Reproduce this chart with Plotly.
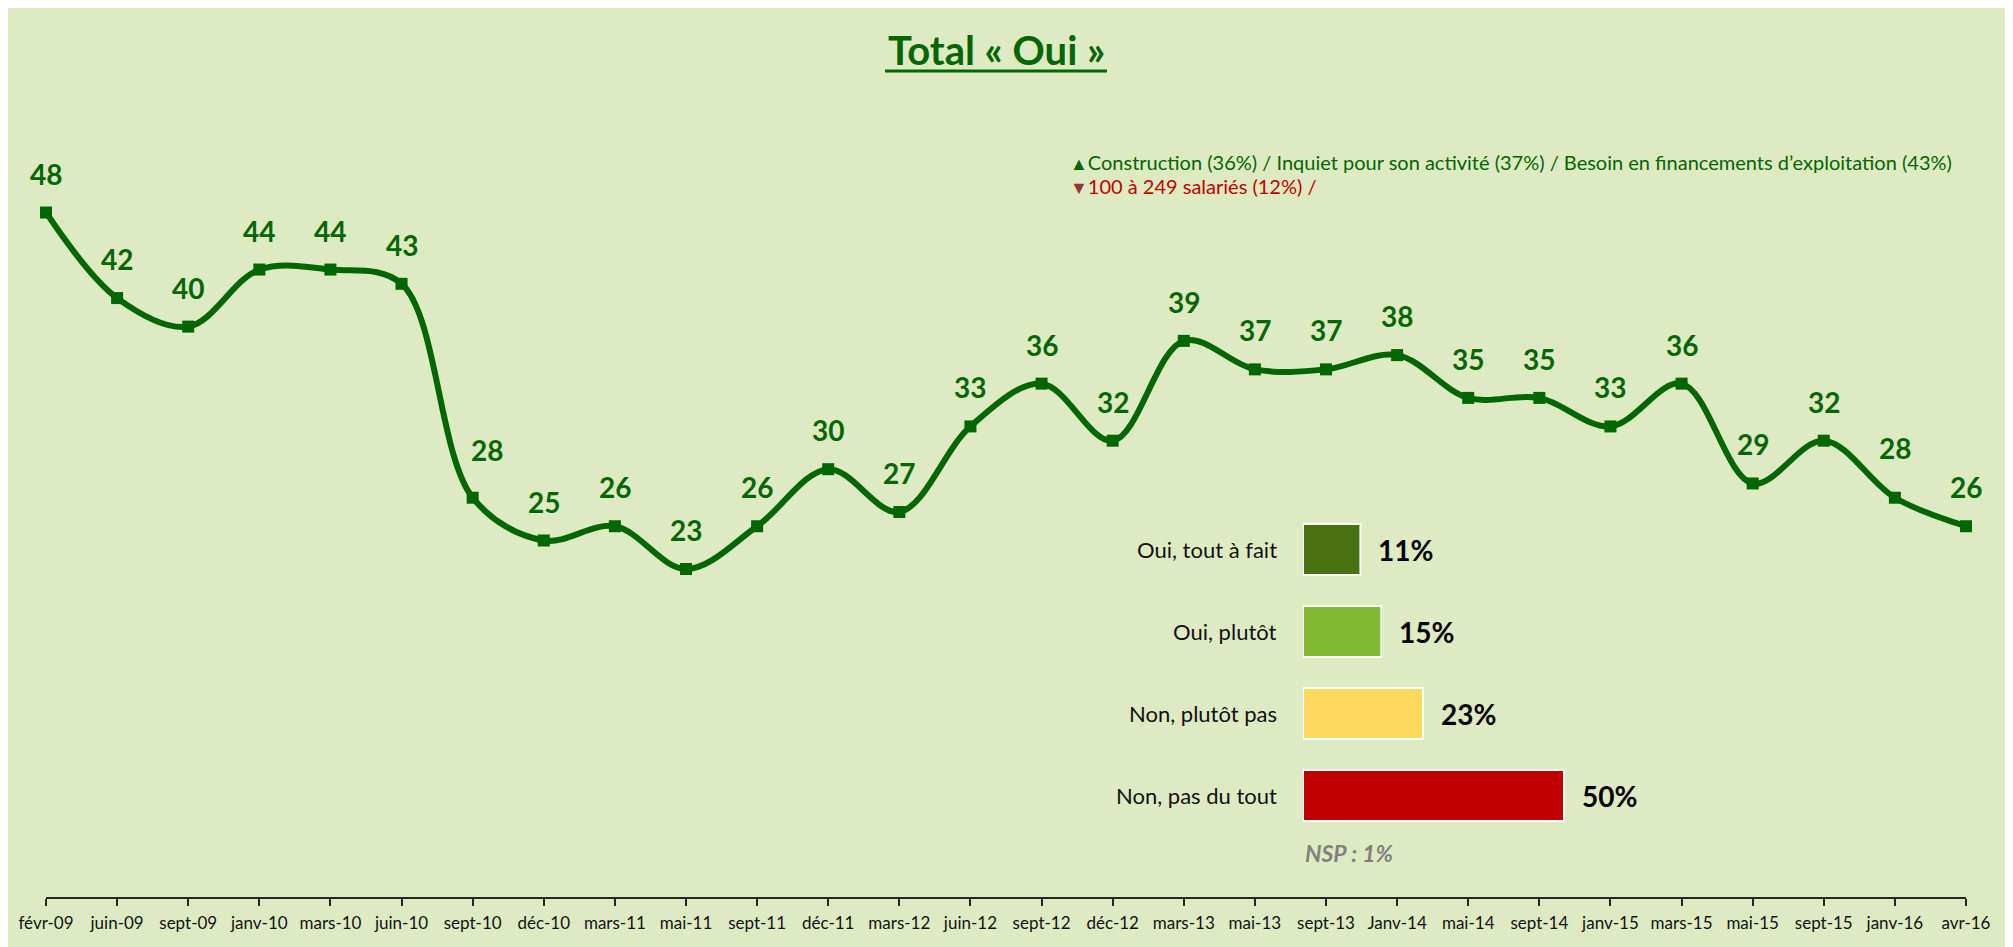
import plotly.graph_objects as go

############# Data #############
mois = ['févr-09', 'juin-09', 'sept-09', 'janv-10', 'mars-10', 'juin-10', 'sept-10', 'déc-10',
        'mars-11', 'mai-11', 'sept-11', 'déc-11', 'mars-12', 'juin-12', 'sept-12', 'déc-12',
        'mars-13', 'mai-13', 'sept-13', 'Janv-14', 'mai-14', 'sept-14', 'janv-15', 'mars-15',
        'mai-15', 'sept-15', 'janv-16', 'avr-16']
total_oui = [48, 42, 40, 44, 44, 43, 28, 25, 26, 23, 26, 30, 27, 33, 36, 32,
             39, 37, 37, 38, 35, 35, 33, 36, 29, 32, 28, 26]

reponses = ['Oui, tout à fait', 'Oui, plutôt', 'Non, plutôt pas', 'Non, pas du tout']
pourcentages = [11, 15, 23, 50]
couleurs_barres = ['#47720F', '#82B932', '#FFD95C', '#C00000']
nsp = 'NSP : 1%'

note_hausse = 'Construction (36%) / Inquiet pour son activité (37%) / Besoin en financements d’exploitation (43%)'
note_baisse = '100 à 249 salariés (12%) /'

############# Layout helpers #############
W, H = 2013, 947
OFF = 8                              # page body margin
L, R, T, B = 38, 55, 0, 58           # plot area in figure pixels
PW, PH = W - L - R, H - T - B
VERT = '#006600'
BG = '#DEEBC2'
FONT = 'Lato'


# positions are measured in page pixels
def px(x):
    return (x - OFF - L) / PW


def py(y):
    return (H - B - (y - OFF)) / PH


# small manual nudges for some line labels (dx, dy in pixels)
nudges = {6: (14, 48), 26: (0, 50)}

fig = go.Figure()

# line chart
fig.add_trace(go.Scatter(
    x=mois, y=total_oui, mode='lines+markers',
    line=dict(color=VERT, width=6, shape='spline', smoothing=1.0),
    marker=dict(symbol='square', size=12, color=VERT),
    cliponaxis=False, showlegend=False, hoverinfo='x+y',
))

# inset bar chart
fig.add_trace(go.Bar(
    x=pourcentages, y=reponses, orientation='h',
    marker=dict(color=couleurs_barres, line=dict(color='white', width=2)),
    xaxis='x2', yaxis='y2', showlegend=False, hoverinfo='x+y',
))

annotations = []
for i, (m, v) in enumerate(zip(mois, total_oui)):
    dx, dy = nudges.get(i, (0, 39))
    annotations.append(dict(
        x=m, y=v, xref='x', yref='y', text=f'<b>{v}</b>', showarrow=False,
        xshift=dx, yshift=dy, font=dict(family=FONT, size=28, color=VERT),
    ))

for rep, p in zip(reponses, pourcentages):
    annotations.append(dict(
        x=0, y=rep, xref='x2', yref='y2', text=rep, showarrow=False,
        xanchor='right', xshift=-24, font=dict(family=FONT, size=22, color='#111111'),
    ))
    annotations.append(dict(
        x=p, y=rep, xref='x2', yref='y2', text=f'<b>{p}%</b>', showarrow=False,
        xanchor='left', xshift=16, font=dict(family=FONT, size=28, color='black'),
    ))

annotations += [
    dict(x=px(1303), y=py(853), xref='paper', yref='paper', xanchor='left', yanchor='middle',
         showarrow=False, text=f'<b><i>{nsp}</i></b>',
         font=dict(family=FONT, size=23, color='#808080')),
    dict(x=px(996), y=py(50), xref='paper', yref='paper', xanchor='center', yanchor='middle',
         showarrow=False, text='<b>Total « Oui »</b>',
         font=dict(family=FONT, size=40, color=VERT)),
    dict(x=px(1068), y=py(162), xref='paper', yref='paper', xanchor='left', yanchor='middle',
         showarrow=False, text=f'<span style="font-size:18px">▲</span>{note_hausse}',
         font=dict(family=FONT, size=20, color=VERT)),
    dict(x=px(1068), y=py(186), xref='paper', yref='paper', xanchor='left', yanchor='middle',
         showarrow=False, text=f'<span style="font-size:18px;color:#953735">▼</span>{note_baisse}',
         font=dict(family=FONT, size=20, color='#C00000')),
]

fig.update_layout(
    width=W, height=H,
    margin=dict(l=L, r=R, t=T, b=B),
    paper_bgcolor=BG, plot_bgcolor='rgba(0,0,0,0)',
    font=dict(family=FONT, color='#111111'),
    bargap=0.378,
    xaxis=dict(type='category', range=[0, len(mois) - 1], showgrid=False, zeroline=False,
               showline=True, linecolor='#262626', linewidth=1.5,
               ticks='outside', ticklen=7, tickwidth=1.5, tickcolor='#262626',
               tickfont=dict(family=FONT, size=17, color='#111111'), ticklabelstandoff=3,
               fixedrange=True),
    yaxis=dict(range=[0, PH / 14.26], visible=False, fixedrange=True),
    xaxis2=dict(domain=[px(1303), px(1303 + 5.22 * 60)], range=[0, 60], anchor='y2',
                visible=False, fixedrange=True),
    yaxis2=dict(domain=[py(836.5), py(508.5)], type='category', autorange='reversed',
                anchor='x2', visible=False, fixedrange=True),
    annotations=annotations,
    shapes=[
        dict(type='line', xref='paper', yref='paper', x0=px(885), x1=px(1107),
             y0=py(71), y1=py(71), line=dict(color=VERT, width=3)),
    ],
)

fig.write_html('out.html')
